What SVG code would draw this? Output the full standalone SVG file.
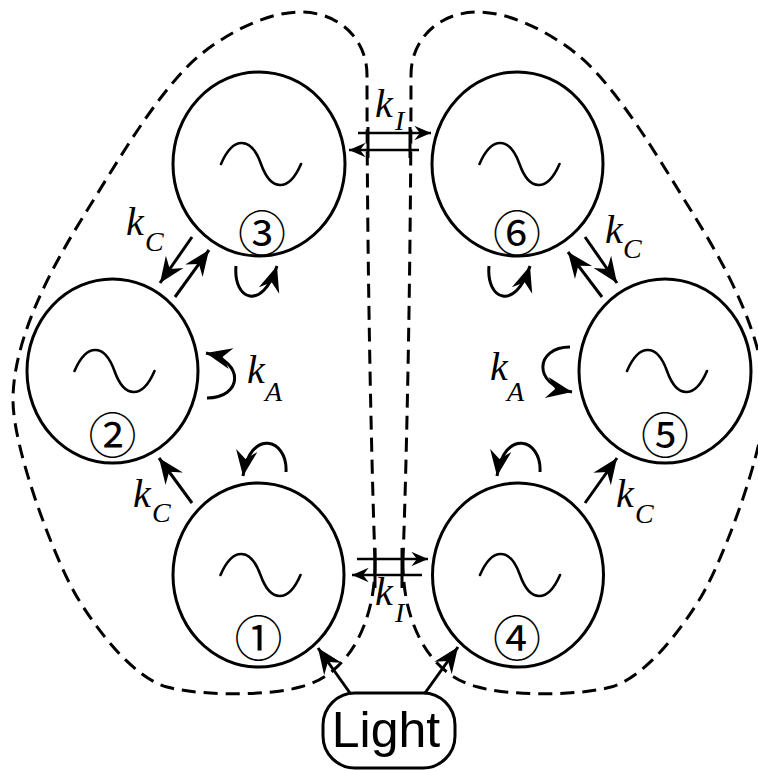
<svg xmlns="http://www.w3.org/2000/svg" width="758" height="771" viewBox="0 0 758 771">
<defs>
<style>
.node{fill:none;stroke:#000;stroke-width:3}
.wave{fill:none;stroke:#000;stroke-width:2.6;stroke-linecap:round}
.num{font-family:"Noto Sans CJK SC","DejaVu Sans",sans-serif;font-size:48px;text-anchor:middle;fill:#000}
.dash{fill:none;stroke:#000;stroke-width:3;stroke-dasharray:14 8}
.arr{fill:none;stroke:#000;stroke-width:3;marker-end:url(#ah)}
.arrs{fill:none;stroke:#000;stroke-width:2.6;marker-end:url(#ahs)}
.tick{stroke:#000;stroke-width:3}
.k{font-family:"Liberation Serif","Times New Roman",serif;font-style:italic;font-size:40px;fill:#000}
.sub{font-family:"Liberation Serif","Times New Roman",serif;font-style:italic;font-size:28px;fill:#000}
</style>
<marker id="ah" markerUnits="userSpaceOnUse" orient="auto" markerWidth="30" markerHeight="30" viewBox="-26 -13 28 26" refX="0" refY="0">
<path d="M0,0 L-24,-10 L-16,0 L-24,10 Z" fill="#000"/>
</marker>
<marker id="ahs" markerUnits="userSpaceOnUse" orient="auto" markerWidth="20" markerHeight="20" viewBox="-17 -8 18 16" refX="0" refY="0">
<path d="M0,0 L-15,-6.5 L-10,0 L-15,6.5 Z" fill="#000"/>
</marker>
<path id="sine" d="M-38,0 C-26,-28 -8,-28 2,0 S30,28 42,0"/>
</defs>

<g id="outline">
<path id="loop-left" class="dash" d="M375,560 C376,620 350,675 300,687 C270,696 200,696 167,687 C135,678 100,635 77,597 C55,560 13,450 13,400 C13,340 50,270 83,217 C116,164 150,105 187,67 C210,43 260,12 300,12 C340,12 367,40 367,75 C367,250 371,450 375,560"/>
<path id="loop-right" class="dash" transform="translate(778,0) scale(-1,1)" d="M375,560 C376,620 350,675 300,687 C270,696 200,696 167,687 C135,678 100,635 77,597 C55,560 13,450 13,400 C13,340 50,270 83,217 C116,164 150,105 187,67 C210,43 260,12 300,12 C340,12 367,40 367,75 C367,250 371,450 375,560"/>
</g>

<g id="node1">
<ellipse class="node" cx="258.5" cy="575" rx="85.5" ry="92"/>
<use href="#sine" class="wave" x="258.5" y="575"/>
<text class="num" x="258.5" y="635" dominant-baseline="central">①</text>
</g>
<g id="node2">
<ellipse class="node" cx="112.5" cy="371" rx="85.5" ry="92"/>
<use href="#sine" class="wave" x="112.5" y="371"/>
<text class="num" x="112.5" y="432" dominant-baseline="central">②</text>
</g>
<g id="node3">
<ellipse class="node" cx="259" cy="164" rx="86" ry="92"/>
<use href="#sine" class="wave" x="259" y="164"/>
<text class="num" x="262" y="230" dominant-baseline="central">③</text>
</g>
<g id="node4">
<ellipse class="node" cx="518" cy="575" rx="85.5" ry="92"/>
<use href="#sine" class="wave" x="518" y="575"/>
<text class="num" x="517" y="635" dominant-baseline="central">④</text>
</g>
<g id="node5">
<ellipse class="node" cx="665" cy="371" rx="86" ry="92"/>
<use href="#sine" class="wave" x="665" y="371"/>
<text class="num" x="665" y="432" dominant-baseline="central">⑤</text>
</g>
<g id="node6">
<ellipse class="node" cx="517.5" cy="164" rx="85.5" ry="92"/>
<use href="#sine" class="wave" x="517.5" y="164"/>
<text class="num" x="517" y="230" dominant-baseline="central">⑥</text>
</g>
<g id="light">
<rect x="323" y="693" width="132" height="75" rx="32" ry="32" fill="#fff" stroke="#000" stroke-width="3"/>
<text x="386" y="747" font-family="Liberation Sans, Arial, sans-serif" font-size="50" text-anchor="middle" fill="#000">Light</text>
</g>

<g id="connectors">
<line class="tick" x1="368" y1="127" x2="368" y2="158"/>
<line class="tick" x1="410" y1="127" x2="410" y2="158"/>
<path class="arrs" d="M358,133 L431,133"/>
<path class="arrs" d="M419,150 L349,150"/>
<line class="tick" x1="375" y1="548" x2="375" y2="588"/>
<line class="tick" x1="402" y1="548" x2="402" y2="588"/>
<path class="arrs" d="M357,559 L428,559"/>
<path class="arrs" d="M422,575 L352,575"/>
<path class="arr" d="M192,237 L160,283"/>
<path class="arr" d="M175,297 L209,250"/>
<path class="arr" d="M585,237 L617,283"/>
<path class="arr" d="M602,297 L568,252"/>
<path class="arr" d="M192,503 L159,458"/>
<path class="arr" d="M585,503 L617,458"/>
<path class="arr" d="M236,266 C233,300 262,312 277,266"/>
<path class="arr" d="M489,266 C486,300 515,312 530,266"/>
<path class="arr" d="M286,472 C288,438 250,428 243,476"/>
<path class="arr" d="M540,472 C542,438 504,428 497,476"/>
<path class="arr" d="M207,398 C242,398 246,362 206,353"/>
<path class="arr" d="M570,347 C535,347 532,385 572,392"/>
<path class="arr" d="M350,693 L318,648"/>
<path class="arr" d="M425,693 L458,647"/>
</g>

<g id="labels">
<text class="k" x="375" y="117">k</text><text class="sub" x="395" y="130">I</text>
<text class="k" x="375" y="605">k</text><text class="sub" x="395" y="622">I</text>
<text class="k" x="126" y="235">k</text><text class="sub" x="145" y="251">C</text>
<text class="k" x="605" y="243">k</text><text class="sub" x="623" y="258">C</text>
<text class="k" x="133" y="507">k</text><text class="sub" x="152" y="522">C</text>
<text class="k" x="616" y="507">k</text><text class="sub" x="635" y="523">C</text>
<text class="k" x="247" y="383">k</text><text class="sub" x="265" y="401">A</text>
<text class="k" x="490" y="380">k</text><text class="sub" x="507" y="401">A</text>
</g>
</svg>
